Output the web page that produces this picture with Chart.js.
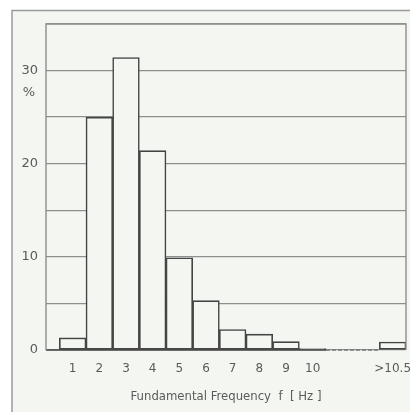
<!DOCTYPE html>
<html lang="en">
<head>
    <meta charset="UTF-8">
    <title>Fundamental Frequency</title>
    <script src="https://cdn.jsdelivr.net/npm/chart.js"></script>
    <style>
        html, body { margin: 0; background: #ffffff; overflow: hidden; }
        #wrap { width: 410px; height: 412px; }
        canvas { display: block; }
    </style>
</head>
<body>
<div id="wrap"><canvas id="myChart" width="410" height="412"></canvas></div>

<script>
    // data
    const categories = ['1', '2', '3', '4', '5', '6', '7', '8', '9', '10', '>10.5'];
    const xValues = [1, 2, 3, 4, 5, 6, 7, 8, 9, 10, 13];
    const percent = [1.3, 25.0, 31.4, 21.4, 9.9, 5.3, 2.2, 1.7, 0.9, 0.15, 0.85];
    const yTicks = [0, 10, 20, 30];

    const paper = '#f4f7f1';
    const ink = '#444444';
    const grey = '#8e8e8e';

    const barData = xValues.map((x, i) => ({x: x, y: percent[i]}));
    const lastEdge = xValues[9] + 0.5;
    const gapEnd = xValues[10] - 0.5;

    const framePlugin = {
        id: 'frame',
        beforeDraw(chart) {
            const c = chart.ctx;
            c.save();
            c.fillStyle = '#ffffff';
            c.fillRect(0, 0, chart.width, chart.height);
            c.fillStyle = paper;
            c.fillRect(12, 10, chart.width, chart.height);
            c.strokeStyle = '#9a9a9a';
            c.lineWidth = 1.5;
            c.strokeRect(12, 10.5, chart.width + 10, chart.height + 10);
            c.restore();
        },
        afterDraw(chart) {
            const c = chart.ctx;
            const a = chart.chartArea;
            const y = chart.scales.y;
            c.save();
            c.strokeStyle = grey;
            c.lineWidth = 1.4;
            c.beginPath();
            c.moveTo(a.left, a.bottom);
            c.lineTo(a.left, a.top);
            c.lineTo(a.right, a.top);
            c.lineTo(a.right, a.bottom);
            c.stroke();
            c.fillStyle = '#5a5a5a';
            c.font = '13px "DejaVu Sans"';
            c.textAlign = 'center';
            c.textBaseline = 'middle';
            c.fillText('%', 29, y.getPixelForValue(30) + 22);
            c.restore();
        }
    };

    const ctx = document.getElementById('myChart').getContext('2d');
    new Chart(ctx, {
        type: 'bar',
        data: {
            datasets: [{
                type: 'line',
                data: [{x: 0, y: 0}, {x: lastEdge, y: 0}],
                borderColor: ink,
                borderWidth: 1.6,
                pointRadius: 0,
                clip: 4,
                order: 0
            }, {
                type: 'line',
                data: [{x: lastEdge, y: 0}, {x: gapEnd, y: 0}],
                borderColor: '#777777',
                borderWidth: 1.5,
                borderDash: [4, 2],
                pointRadius: 0,
                clip: 4,
                order: 0
            }, {
                label: 'percent',
                data: barData,
                backgroundColor: paper,
                borderColor: ink,
                borderWidth: 1.6,
                borderSkipped: false,
                barPercentage: 1,
                categoryPercentage: 1,
                order: 1
            }]
        },
        options: {
            responsive: false,
            animation: false,
            layout: { padding: { top: 24, right: 4, left: 0, bottom: 0 } },
            plugins: { legend: { display: false }, tooltip: { enabled: false } },
            scales: {
                x: {
                    type: 'linear',
                    min: 0,
                    max: 13.5,
                    offset: false,
                    grid: { display: false },
                    border: { display: false },
                    afterBuildTicks: (s) => { s.ticks = xValues.map(v => ({value: v})); },
                    afterFit: (s) => { s.height = 62; s.paddingLeft = 0; s.paddingRight = 0; },
                    ticks: {
                        autoSkip: false,
                        maxRotation: 0,
                        padding: 4,
                        color: '#5a5a5a',
                        font: { family: 'DejaVu Sans', size: 12 },
                        callback: (v) => categories[xValues.indexOf(v)]
                    },
                    title: {
                        display: true,
                        text: 'Fundamental Frequency  f  [ Hz ]',
                        color: '#5a5a5a',
                        font: { family: '"DejaVu Sans Condensed", "DejaVu Sans"', size: 13 },
                        padding: { top: 4, bottom: 8 }
                    }
                },
                y: {
                    min: 0,
                    max: 35,
                    afterFit: (s) => { s.width = 46; },
                    grid: { color: grey, lineWidth: 1.3, drawTicks: false },
                    border: { display: false },
                    ticks: {
                        stepSize: 5,
                        padding: 8,
                        color: '#5a5a5a',
                        font: { family: 'DejaVu Sans', size: 13 },
                        callback: (v) => yTicks.includes(v) ? String(v) : ''
                    }
                }
            }
        },
        plugins: [framePlugin]
    });
</script>
</body>
</html>
